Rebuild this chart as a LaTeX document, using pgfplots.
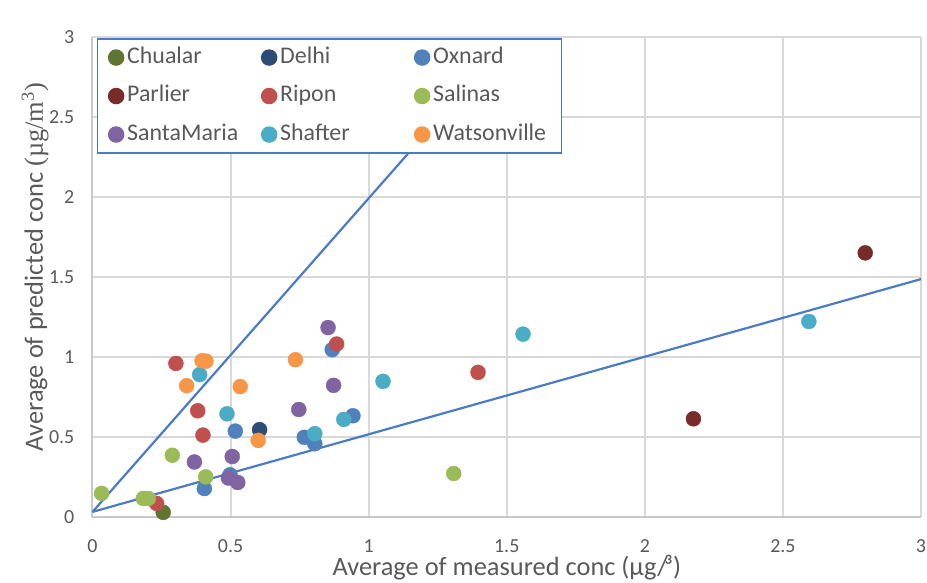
\documentclass[border=0pt]{standalone}
\usepackage{fontspec}
\setmainfont{Carlito}
\newfontfamily\serifx{Liberation Serif}
\usepackage{pgfplots}
\pgfplotsset{compat=1.18}
\definecolor{txt}{HTML}{595959}
\definecolor{gridc}{HTML}{D9D9D9}
\definecolor{axc}{HTML}{C8C8C8}
\definecolor{lineblue}{HTML}{4A7BC4}
\definecolor{cChualar}{HTML}{5F7530}
\definecolor{cDelhi}{HTML}{2C4D75}
\definecolor{cOxnard}{HTML}{4F81BD}
\definecolor{cParlier}{HTML}{772C2A}
\definecolor{cRipon}{HTML}{C0504D}
\definecolor{cSalinas}{HTML}{9BBB59}
\definecolor{cSantaMaria}{HTML}{8064A2}
\definecolor{cShafter}{HTML}{4BACC6}
\definecolor{cWatsonville}{HTML}{F79646}
\pgfplotsset{
  pt/.style={only marks, mark=*, mark size=7.5bp, color=#1,
    mark options={draw=none, fill=#1},
    legend image code/.code={\draw[mark repeat=2,mark phase=2,##1] plot coordinates {(0bp,0bp) (7.5bp,0bp) (15bp,0bp)};}},
}
\begin{document}
\begin{tikzpicture}
\useasboundingbox (-92.5bp,-65.4bp) rectangle (834.5bp,516.7bp);
\begin{axis}[
  at={(0,0)}, anchor=south west,
  scale only axis, width=828.5bp, height=480bp,
  xmin=0, xmax=3, ymin=0, ymax=3,
  xtick={0,0.5,1,1.5,2,2.5,3}, ytick={0,0.5,1,1.5,2,2.5,3},
  grid=major, major grid style={color=gridc, line width=2bp},
  axis x line*=bottom, axis y line*=left,
  axis line style={color=axc, line width=2bp},
  major tick length=0pt,
  /pgf/number format/assume math mode=true,
  tick label style={font=\fontsize{20}{24}\selectfont, text=txt},
  xticklabel style={anchor=north, inner sep=0pt, yshift=-23bp},
  yticklabel style={anchor=east, inner sep=0pt, xshift=-18bp},
  label style={font=\fontsize{26.5}{31}\selectfont, text=txt},
  xlabel={Average of measured conc (µg/³)},
  ylabel={Average of predicted conc {\serifx(µg/m\textsuperscript{3})}},
  xlabel style={at={(axis description cs:0.5,0)}, anchor=base, yshift=-59bp},
  ylabel style={at={(axis description cs:-0.0694,0.52)}, anchor=center},
  legend columns=3,
  legend cell align=left,
  legend style={at={(axis cs:0.016,2.99)}, anchor=north west,
    draw=lineblue, line width=1.5bp, fill=white,
    inner xsep=11bp, inner ysep=5bp,
    font=\fontsize{24}{28}\selectfont, text=txt,
    nodes={text width=114bp, text height=16bp, text depth=5bp, inner xsep=3.5bp, inner ysep=3bp, align=left},
    /tikz/every even column/.append style={column sep=17bp},
    row sep=11.5bp},
]
\addplot[pt=cChualar] coordinates {(0.256,0.027)};
\addlegendentry{Chualar}
\addplot[pt=cDelhi] coordinates {(0.605,0.544)};
\addlegendentry{Delhi}
\addplot[pt=cOxnard] coordinates {(0.868,1.044) (0.943,0.631) (0.517,0.535) (0.767,0.496) (0.805,0.456) (0.498,0.262) (0.405,0.176)};
\addlegendentry{Oxnard}
\addplot[pt=cParlier] coordinates {(2.798,1.649) (2.176,0.612)};
\addlegendentry{Parlier}
\addplot[pt=cRipon] coordinates {(0.884,1.079) (0.302,0.958) (0.381,0.662) (0.400,0.510) (0.232,0.083) (1.396,0.902)};
\addlegendentry{Ripon}
\addplot[pt=cSalinas] coordinates {(0.289,0.384) (0.410,0.249) (0.033,0.146) (0.184,0.114) (0.202,0.114) (1.308,0.270)};
\addlegendentry{Salinas}
\addplot[pt=cSantaMaria] coordinates {(0.853,1.182) (0.873,0.821) (0.747,0.670) (0.369,0.342) (0.506,0.376) (0.492,0.242) (0.526,0.214)};
\addlegendentry{SantaMaria}
\addplot[pt=cShafter] coordinates {(0.388,0.888) (1.052,0.846) (0.487,0.643) (0.910,0.608) (0.805,0.519) (1.559,1.141) (2.594,1.220)};
\addlegendentry{Shafter}
\addplot[pt=cWatsonville] coordinates {(0.397,0.975) (0.411,0.972) (0.341,0.819) (0.735,0.981) (0.535,0.813) (0.600,0.477)};
\addlegendentry{Watsonville}
\addplot[lineblue, line width=2.2bp, forget plot] coordinates {(0,0.03) (3,1.485)};
\addplot[lineblue, line width=2.2bp, forget plot] coordinates {(0,0.03) (1.1475,2.279)};
\end{axis}
\end{tikzpicture}
\end{document}
